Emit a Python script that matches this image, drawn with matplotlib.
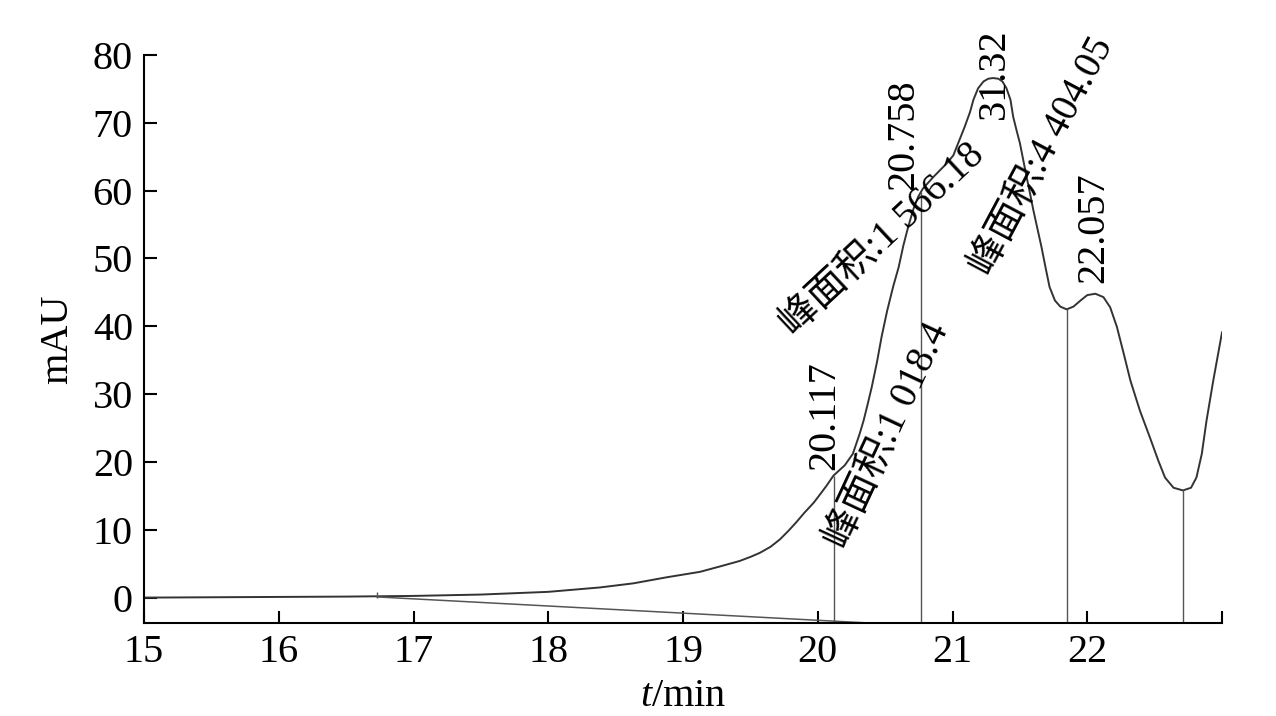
import matplotlib
matplotlib.use('Agg')
import matplotlib.pyplot as plt

# chromatogram trace
t_min = [15.0, 15.5, 16.0, 16.5, 17.0, 17.5, 18.0, 18.384, 18.63, 18.88, 19.126,
         19.275, 19.42, 19.5, 19.57, 19.65, 19.72, 19.78, 19.84, 19.9, 19.97,
         20.02, 20.065, 20.117, 20.2, 20.26, 20.31, 20.34, 20.37, 20.4, 20.44,
         20.474, 20.515, 20.56, 20.6, 20.635,
         20.67, 20.71, 20.745, 20.78, 20.857, 20.956, 21.006, 21.056, 21.09, 21.13,
         21.155, 21.19, 21.23, 21.265, 21.3, 21.34, 21.37, 21.4, 21.43, 21.45,
         21.475, 21.5, 21.525, 21.55, 21.575, 21.6, 21.63, 21.66, 21.69, 21.72,
         21.76, 21.8, 21.847, 21.897, 21.95, 22.0, 22.06, 22.12, 22.17, 22.22,
         22.27, 22.32, 22.39, 22.465, 22.527, 22.577, 22.64, 22.71, 22.77, 22.81,
         22.85, 22.885, 22.935, 23.0]
mau = [0.0, 0.05, 0.1, 0.15, 0.25, 0.45, 0.85, 1.5, 2.1, 3.0, 3.8,
       4.6, 5.4, 6.0, 6.6, 7.5, 8.6, 9.8, 11.1, 12.5, 14.0,
       15.3, 16.5, 18.0, 19.5, 21.2, 24.1, 26.1, 28.5, 31.0, 34.8,
       38.5, 42.3, 45.9, 48.7, 51.9,
       54.6, 57.3, 59.1, 60.3, 62.0, 64.0, 65.2, 67.7, 69.4, 71.6,
       73.4, 75.1, 76.1, 76.5, 76.6, 76.5, 76.1, 75.1, 73.4, 70.9,
       68.9, 67.0, 64.5, 62.0, 59.6, 57.1, 54.4, 51.7, 48.7, 45.8,
       43.8, 42.9, 42.5, 42.9, 43.8, 44.6, 44.8, 44.3, 42.8, 39.9,
       36.0, 32.0, 27.6, 23.6, 20.2, 17.7, 16.2, 15.8, 16.2, 17.7,
       21.2, 26.1, 32.0, 39.1]

# integration baseline and peak cut lines
base_x = [16.73, 22.71]
base_y = [0.1, -6.2]
cut_x = [20.117, 20.766, 21.847, 22.71]
cut_top = [18.0, 59.8, 42.5, 15.8]

# labels: (text, x, y, angle)
rt_labels = [('20.117', 20.054, 26.8, 90),
             ('20.758', 20.64, 68.3, 90),
             ('31.32', 21.308, 77.3, 90),
             ('22.057', 22.05, 54.6, 90)]
area_labels = [('峰面积:1 018.4', 20.52, 23.9, 65),
               ('峰面积:1 566.18', 20.48, 52.7, 43),
               ('峰面积:4 404.05', 21.67, 65.0, 62)]

xticks = [15, 16, 17, 18, 19, 20, 21, 22, 23]
xticklabels = ['15', '16', '17', '18', '19', '20', '21', '22', '']
yticks = [0, 10, 20, 30, 40, 50, 60, 70, 80]

fonts = ['Liberation Serif', 'Noto Sans CJK SC']
plt.rcParams['font.family'] = fonts
plt.rcParams['mathtext.fontset'] = 'custom'
plt.rcParams['mathtext.it'] = 'Liberation Serif:italic'
plt.rcParams['mathtext.rm'] = 'Liberation Serif'

fig = plt.figure(figsize=(12.76, 7.16), dpi=100)
ax = fig.add_axes([0.1129, 0.1303, 0.8448, 0.7929])

ax.plot(t_min, mau, color='#333333', lw=1.4)
ax.plot(base_x, base_y, color='#555555', lw=1.1)
ax.vlines(cut_x, -3.7, cut_top, color='#555555', lw=1.0)
ax.vlines([16.73], 0.0, 0.9, color='#555555', lw=1.0)

for txt, x, y, ang in rt_labels:
    ax.text(x, y, txt, rotation=ang, ha='center', va='center', fontsize=29)
for txt, x, y, ang in area_labels:
    ax.text(x, y, txt, rotation=ang, ha='center', va='center', fontsize=28,
            rotation_mode='anchor')

ax.set_xlim(15, 23)
ax.set_ylim(-3.7, 80)
ax.set_xticks(xticks)
ax.set_xticklabels(xticklabels)
ax.set_yticks(yticks)
ax.spines['top'].set_visible(False)
ax.spines['right'].set_visible(False)
ax.spines['left'].set_linewidth(1.5)
ax.spines['bottom'].set_linewidth(1.5)
ax.tick_params(direction='in', length=9, width=1.5, labelsize=29, pad=8)

ax.set_ylabel('mAU', fontsize=29, labelpad=12)
ax.set_xlabel(r'$t$/min', fontsize=29, labelpad=5)

fig.savefig('out.png', dpi=100)
